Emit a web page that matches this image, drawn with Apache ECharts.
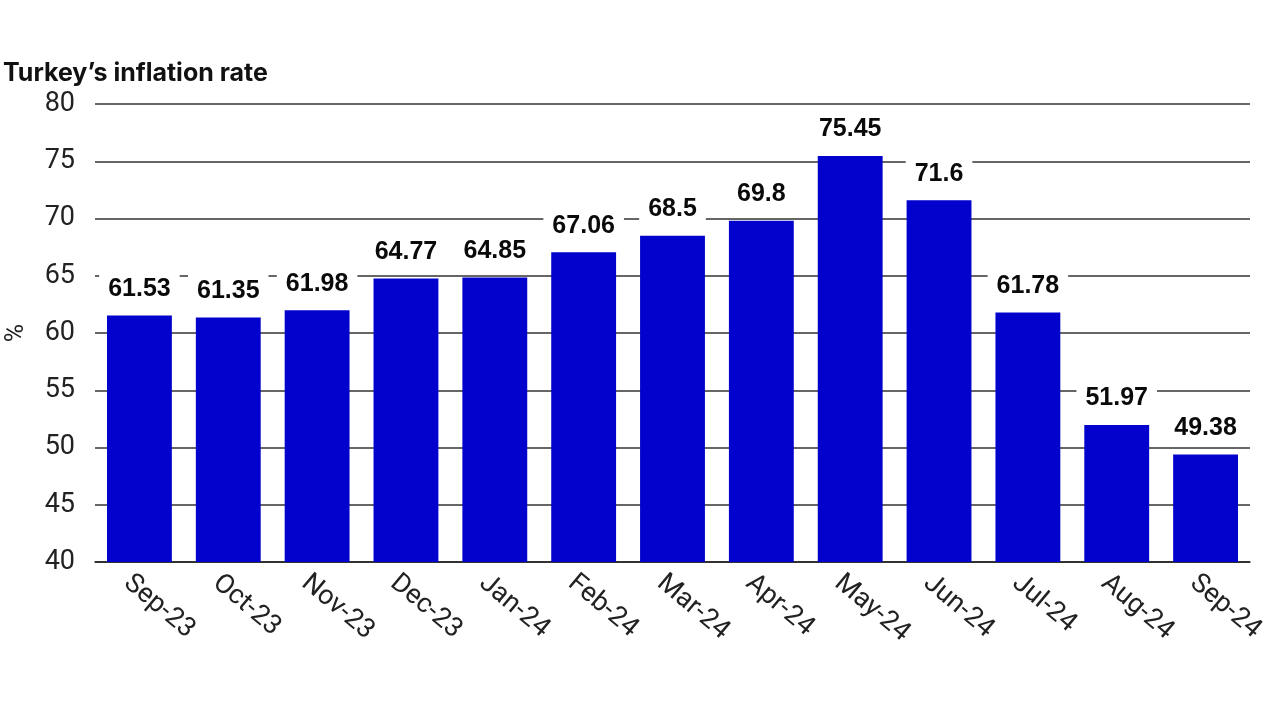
<!DOCTYPE html>
<html><head><meta charset="utf-8">
<script src="https://cdn.jsdelivr.net/npm/echarts@6/dist/echarts.min.js"></script>
<style>html,body{margin:0;padding:0;background:#fff}#c{width:1280px;height:720px}</style>
</head><body><div id="c"></div>
<script>
const categories = ["Sep-23","Oct-23","Nov-23","Dec-23","Jan-24","Feb-24","Mar-24","Apr-24","May-24","Jun-24","Jul-24","Aug-24","Sep-24"];
const inflation = [61.53,61.35,61.98,64.77,64.85,67.06,68.5,69.8,75.45,71.6,61.78,51.97,49.38];
const yTicks = {min:40, max:80, interval:5};

const chart = echarts.init(document.getElementById('c'));
chart.setOption({
  animation:false,
  title:{text:"Turkey\u2019s inflation rate", left:3, top:61, padding:0,
    textStyle:{fontFamily:"Inter", fontWeight:"bold", fontSize:25, color:"#111"}},
  grid:{left:95, right:30, top:104, bottom:158, containLabel:false, outerBoundsMode:'none'},
  xAxis:{type:'category', data:categories,
    axisLine:{lineStyle:{color:'#222', width:1.5}},
    axisTick:{show:false},
    axisLabel:{rotate:-40, fontFamily:"Roboto", fontSize:27, color:'#222', margin:28, interval:0,
      padding:[0,0,0,-16]}},
  yAxis:{type:'value', min:yTicks.min, max:yTicks.max, interval:yTicks.interval,
    name:'%', nameLocation:'middle', nameGap:66, nameRotate:90,
    nameTextStyle:{fontFamily:"Roboto", fontSize:25, color:'#222'},
    axisLine:{show:false}, axisTick:{show:false},
    axisLabel:{fontFamily:"Roboto", fontSize:27, color:'#222', margin:20},
    splitLine:{lineStyle:{color:'#333', width:1.5}}},
  series:[{type:'bar', data:inflation, barCategoryGap:'27%', z:3,
    itemStyle:{color:'#0202CC'},
    label:{show:true, position:'top', distance:10, fontFamily:"Liberation Sans", fontWeight:'bold',
      fontSize:25, color:'#0a0a0a', backgroundColor:'#fff', padding:[6,9,4,9]}}]
});
</script></body></html>
